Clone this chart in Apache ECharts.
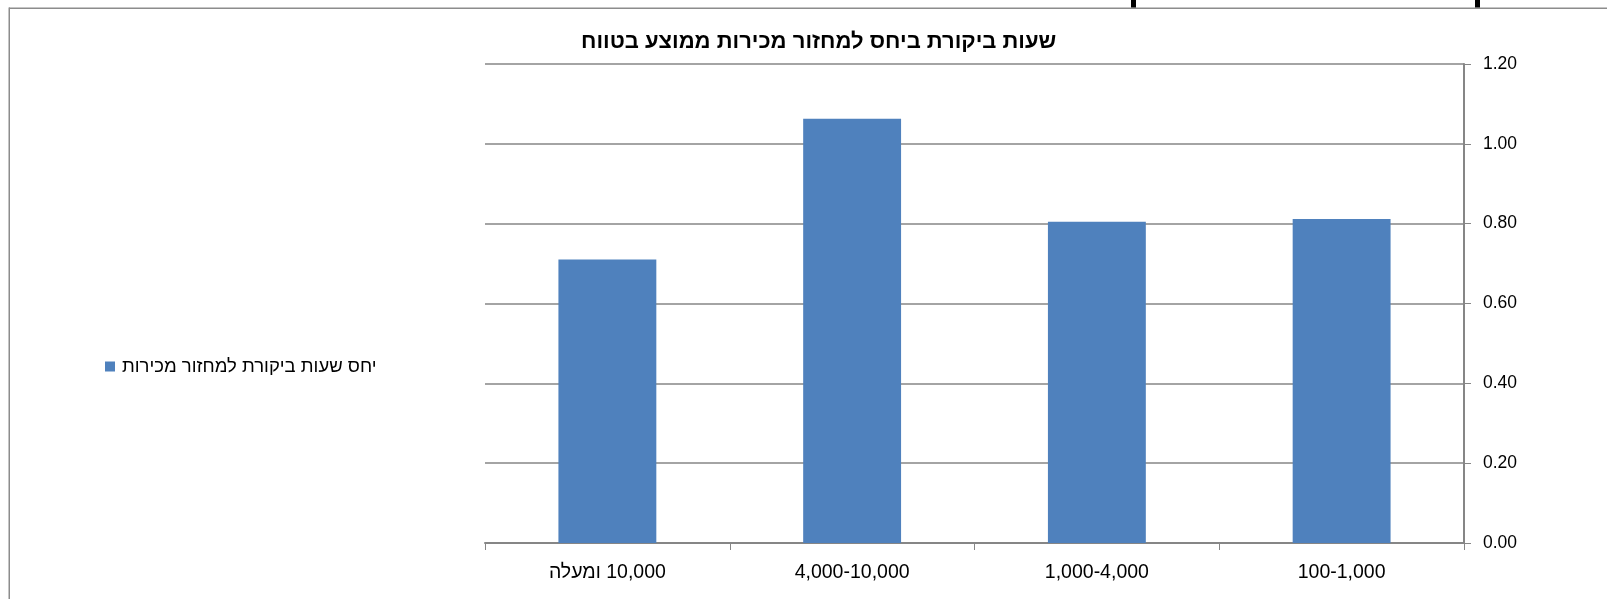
<!DOCTYPE html>
<html>
<head>
<meta charset="utf-8">
<script src="https://cdn.jsdelivr.net/npm/echarts@6/dist/echarts.min.js"></script>
<style>
  html, body { margin: 0; padding: 0; background: #fff; }
  #chart { width: 1607px; height: 599px; }
</style>
</head>
<body>
<div id="chart"></div>
<script>
// Sales-turnover ranges (first = rightmost on the axis, RTL layout)
const categories = ['100-1,000', '1,000-4,000', '4,000-10,000', '10,000 ומעלה'];
// Audit hours relative to sales turnover, per range
const ratioValues = [0.812, 0.805, 1.063, 0.71];
const seriesName = 'יחס שעות ביקורת למחזור מכירות';
const chartTitle = 'שעות ביקורת ביחס למחזור מכירות ממוצע בטווח';

const FONT = '"Liberation Sans", Arial, sans-serif';
const GRAY = '#868686';
const RLM = '\u200F'; // right-to-left mark so mixed labels read in Hebrew order

const chart = echarts.init(document.getElementById('chart'), null, { renderer: 'canvas' });

chart.setOption({
  animation: false,
  backgroundColor: '#fff',
  title: {
    text: chartTitle,
    left: 576,
    top: 26,
    textStyle: { fontFamily: FONT, fontSize: 22, fontWeight: 'bold', color: '#000' }
  },
  legend: {
    data: [seriesName],
    left: 100,
    top: 352,
    icon: 'rect',
    itemWidth: 10,
    itemHeight: 10,
    itemGap: 4,
    textStyle: { fontFamily: FONT, fontSize: 18.5, color: '#000', padding: [0, 0, 0, 2] }
  },
  grid: { left: 485, right: 1607 - 1464, top: 64, bottom: 599 - 543, containLabel: false },
  xAxis: {
    type: 'category',
    data: categories,
    inverse: true,
    axisLine: { lineStyle: { color: GRAY, width: 2 } },
    axisTick: { show: true, length: 7, lineStyle: { color: GRAY, width: 1 } },
    axisLabel: {
      fontFamily: FONT, fontSize: 19.5, color: '#000', margin: 20,
      formatter: v => RLM + v
    }
  },
  yAxis: {
    type: 'value',
    position: 'right',
    min: 0,
    max: 1.2,
    interval: 0.2,
    axisLine: { show: true, lineStyle: { color: GRAY, width: 2 } },
    axisTick: { show: true, length: 7, inside: false, lineStyle: { color: GRAY, width: 1 } },
    axisLabel: {
      fontFamily: FONT, fontSize: 17.5, color: '#000', margin: 19,
      formatter: v => v.toFixed(2)
    },
    splitLine: { lineStyle: { color: GRAY, width: 1.5 } }
  },
  series: [{
    name: seriesName,
    type: 'bar',
    data: ratioValues,
    barWidth: '40%',
    itemStyle: { color: '#4f81bd' }
  }],
  graphic: [
    // sheet frame around the chart
    { type: 'rect', shape: { x: 9, y: 7.5, width: 1598, height: 1.5 }, style: { fill: '#8c8c8c' } },
    { type: 'rect', shape: { x: 8.5, y: 7.5, width: 1.5, height: 592 }, style: { fill: '#8c8c8c' } },
    // cell markers along the top edge
    { type: 'rect', shape: { x: 1131, y: 0, width: 5, height: 7.5 }, style: { fill: '#000' } },
    { type: 'rect', shape: { x: 1475, y: 0, width: 5, height: 7.5 }, style: { fill: '#000' } }
  ]
});
</script>
</body>
</html>
